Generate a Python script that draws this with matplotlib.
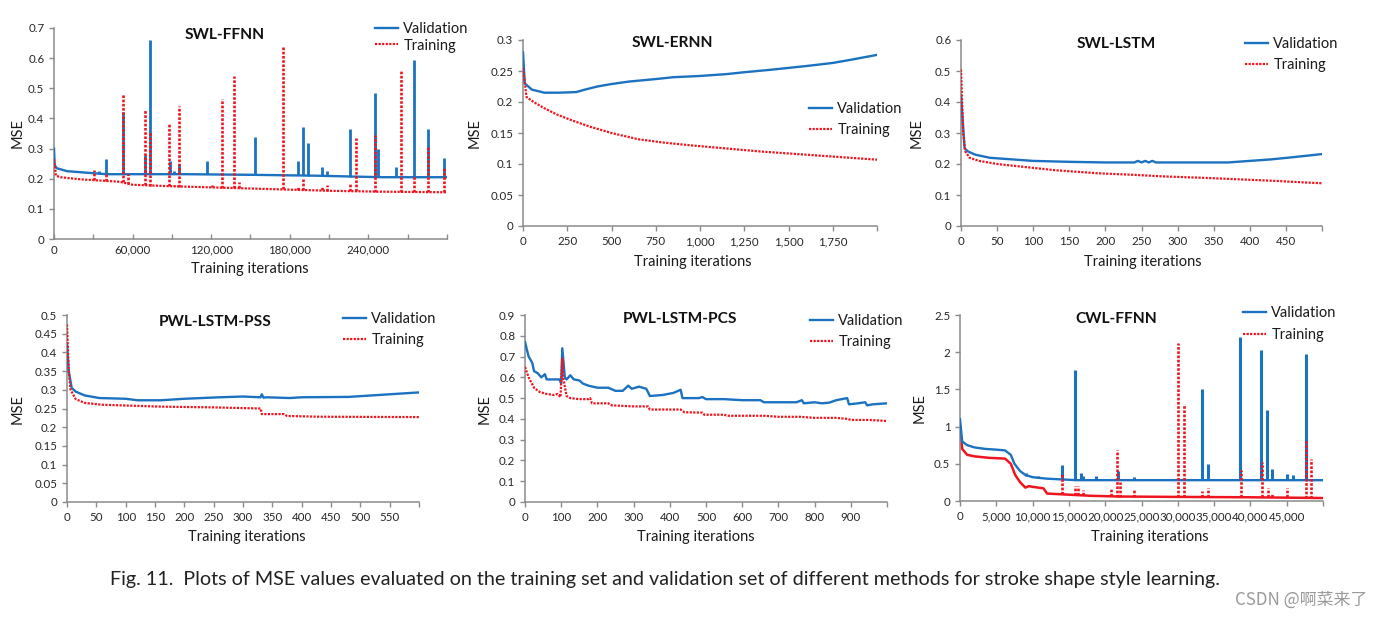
import numpy as np
import matplotlib.pyplot as plt
from matplotlib.lines import Line2D

plt.rcParams['font.family'] = ['Lato', 'DejaVu Sans']

W, H = 1382, 618
BLUE = '#1b72c0'
RED = '#f0141e'
DOT = (0, (1, 0.6))

### datos

# SWL-FFNN
ffnn_val_x = [0, 500, 2000, 10000, 25000, 40000, 100000, 150000, 200000, 250000, 300000]
ffnn_val_y = [0.30, 0.245, 0.235, 0.225, 0.22, 0.215, 0.215, 0.213, 0.21, 0.205, 0.205]
ffnn_val_spk_x = [34400, 39500, 52800, 69300, 73400, 88500, 91500, 95300, 116500, 153700, 186600,
                  189900, 193700, 204400, 208300, 226100, 244700, 247300, 261000, 274500, 285500, 297500]
ffnn_val_spk_lo = [0.216, 0.215, 0.215, 0.215, 0.215, 0.215, 0.215, 0.215, 0.215, 0.213, 0.211,
                   0.211, 0.21, 0.209, 0.208, 0.207, 0.205, 0.205, 0.205, 0.205, 0.205, 0.205]
ffnn_val_spk_hi = [0.225, 0.265, 0.42, 0.28, 0.66, 0.26, 0.225, 0.25, 0.26, 0.34, 0.26,
                   0.37, 0.32, 0.24, 0.225, 0.365, 0.485, 0.30, 0.24, 0.595, 0.365, 0.27]
ffnn_trn_x = [0, 1500, 5000, 20000, 50000, 60000, 90000, 130000, 170000, 210000, 250000, 300000]
ffnn_trn_y = [0.265, 0.21, 0.205, 0.198, 0.19, 0.18, 0.175, 0.17, 0.165, 0.16, 0.157, 0.155]
ffnn_trn_spk_x = [30600, 39500, 52800, 56600, 69300, 73400, 87700, 91500, 95300, 120600, 128000, 137600,
                  141200, 174600, 186600, 189900, 204400, 208300, 226100, 230200, 244700, 264800,
                  274500, 285500, 297500]
ffnn_trn_spk_lo = [0.196, 0.193, 0.188, 0.184, 0.178, 0.177, 0.175, 0.175, 0.174, 0.171, 0.17, 0.169,
                   0.169, 0.165, 0.163, 0.163, 0.161, 0.16, 0.159, 0.158, 0.157, 0.156,
                   0.156, 0.156, 0.155]
ffnn_trn_spk_hi = [0.23, 0.22, 0.48, 0.215, 0.43, 0.355, 0.385, 0.18, 0.44, 0.18, 0.465, 0.54,
                   0.19, 0.64, 0.175, 0.2, 0.175, 0.18, 0.185, 0.335, 0.345, 0.56,
                   0.21, 0.31, 0.24]

# SWL-ERNN
ernn_val_x = [0, 10, 50, 120, 200, 300, 350, 420, 500, 600, 750, 850, 1000, 1150, 1250, 1400, 1500, 1600, 1750, 1850, 2000]
ernn_val_y = [0.28, 0.23, 0.22, 0.215, 0.215, 0.216, 0.22, 0.225, 0.229, 0.233, 0.237, 0.24, 0.242, 0.245, 0.248,
              0.252, 0.255, 0.258, 0.263, 0.268, 0.276]
ernn_trn_x = [0, 20, 60, 120, 190, 280, 380, 500, 650, 780, 950, 1150, 1350, 1600, 1850, 2000]
ernn_trn_y = [0.255, 0.208, 0.2, 0.19, 0.18, 0.17, 0.16, 0.15, 0.14, 0.135, 0.13, 0.125, 0.12, 0.115, 0.11, 0.107]

# SWL-LSTM
lstm_val_x = [0, 5, 10, 20, 40, 70, 100, 150, 200, 240, 245, 250, 255, 260, 265, 270, 370, 400, 430, 460, 500]
lstm_val_y = [0.42, 0.25, 0.24, 0.23, 0.22, 0.215, 0.21, 0.207, 0.205, 0.205, 0.21, 0.205, 0.21, 0.205, 0.21, 0.205,
              0.205, 0.21, 0.215, 0.222, 0.232]
lstm_trn_x = [0, 3, 6, 12, 25, 50, 90, 130, 190, 240, 280, 340, 390, 440, 480, 500]
lstm_trn_y = [0.505, 0.3, 0.24, 0.22, 0.21, 0.2, 0.19, 0.18, 0.17, 0.165, 0.16, 0.155, 0.15, 0.145, 0.14, 0.138]

# PWL-LSTM-PSS
pss_val_x = [0, 3, 8, 15, 30, 55, 100, 120, 160, 200, 260, 300, 330, 332, 335, 340, 380, 400, 480, 520, 560, 600]
pss_val_y = [0.42, 0.35, 0.305, 0.295, 0.285, 0.278, 0.276, 0.272, 0.272, 0.276, 0.28, 0.282, 0.28, 0.288,
             0.279, 0.28, 0.278, 0.28, 0.281, 0.285, 0.289, 0.293]
pss_trn_x = [0, 3, 6, 15, 30, 60, 120, 160, 250, 330, 332, 370, 375, 430, 600]
pss_trn_y = [0.475, 0.35, 0.3, 0.275, 0.265, 0.26, 0.257, 0.255, 0.253, 0.25, 0.235, 0.235, 0.23, 0.228, 0.227]

# PWL-LSTM-PCS
pcs_val_x = [0, 10, 20, 25, 35, 45, 55, 60, 95, 100, 103, 110, 115, 125, 135, 150, 160, 175, 200, 230, 250, 270,
             285, 295, 315, 335, 345, 380, 410, 430, 435, 480, 490, 500, 550, 600, 650, 660, 750, 765, 770, 800,
             820, 840, 860, 890, 895, 920, 940, 945, 960, 1000]
pcs_val_y = [0.77, 0.7, 0.67, 0.63, 0.62, 0.6, 0.615, 0.59, 0.59, 0.57, 0.74, 0.6, 0.59, 0.61, 0.59, 0.585, 0.57,
             0.56, 0.55, 0.55, 0.535, 0.535, 0.56, 0.545, 0.555, 0.545, 0.51, 0.515, 0.525, 0.54, 0.5, 0.5, 0.505,
             0.495, 0.495, 0.49, 0.49, 0.48, 0.48, 0.49, 0.475, 0.48, 0.475, 0.478, 0.49, 0.5, 0.47, 0.475, 0.48,
             0.465, 0.47, 0.475]
pcs_trn_x = [0, 10, 25, 40, 60, 80, 90, 98, 103, 105, 115, 125, 150, 175, 180, 185, 230, 240, 300, 340, 345, 430,
             440, 490, 495, 550, 560, 660, 700, 760, 800, 860, 890, 900, 950, 1000]
pcs_trn_y = [0.65, 0.6, 0.55, 0.53, 0.52, 0.515, 0.52, 0.505, 0.69, 0.6, 0.51, 0.5, 0.495, 0.495, 0.5, 0.475,
             0.475, 0.465, 0.46, 0.46, 0.445, 0.445, 0.432, 0.43, 0.42, 0.42, 0.415, 0.415, 0.41, 0.41, 0.405,
             0.405, 0.4, 0.395, 0.395, 0.39]

# CWL-FFNN
cwl_val_x = [0, 300, 1000, 2000, 3500, 5000, 6200, 7000, 7500, 8300, 9000, 10000, 12000, 14000, 16000, 50000]
cwl_val_y = [1.1, 0.8, 0.75, 0.72, 0.70, 0.69, 0.68, 0.62, 0.5, 0.4, 0.35, 0.32, 0.30, 0.29, 0.28, 0.28]
cwl_val_spk_x = [9100, 10800, 14000, 15800, 16600, 17000, 18800, 21800, 24000, 33400, 34200, 38600, 41500,
                 42300, 43000, 45000, 45800, 47700]
cwl_val_spk_lo = [0.33, 0.31, 0.29, 0.28, 0.28, 0.28, 0.28, 0.28, 0.28, 0.28, 0.28, 0.28, 0.28,
                  0.28, 0.28, 0.28, 0.28, 0.28]
cwl_val_spk_hi = [0.37, 0.33, 0.48, 1.76, 0.37, 0.34, 0.33, 0.40, 0.32, 1.5, 0.5, 2.2, 2.03,
                  1.22, 0.43, 0.36, 0.35, 1.97]
cwl_trn_x = [0, 300, 1000, 2000, 4000, 6200, 7000, 7600, 8300, 9000, 9500, 10000, 11500, 12000, 14000, 18000,
             22000, 30000, 40000, 50000]
cwl_trn_y = [1.0, 0.7, 0.62, 0.6, 0.58, 0.57, 0.5, 0.35, 0.25, 0.18, 0.2, 0.19, 0.17, 0.1, 0.09, 0.07,
             0.06, 0.055, 0.05, 0.04]
cwl_trn_spk_x = [14000, 15800, 16300, 17000, 20800, 21600, 22000, 24000, 30000, 30800, 33300, 34100, 38700,
                 41600, 42400, 43000, 45000, 47700, 48300]
cwl_trn_spk_lo = [0.09, 0.08, 0.08, 0.075, 0.065, 0.06, 0.06, 0.058, 0.055, 0.055, 0.053, 0.053, 0.051,
                  0.05, 0.05, 0.05, 0.048, 0.045, 0.044]
cwl_trn_spk_hi = [0.38, 0.2, 0.2, 0.15, 0.18, 0.68, 0.25, 0.15, 2.12, 1.3, 0.13, 0.17, 0.42,
                  0.52, 0.17, 0.1, 0.17, 0.8, 0.57]

titles = ['SWL-FFNN', 'SWL-ERNN', 'SWL-LSTM', 'PWL-LSTM-PSS', 'PWL-LSTM-PCS', 'CWL-FFNN']
xmax = [300000, 2000, 500, 600, 1000, 50000]
xstep = [30000, 250, 50, 50, 100, 5000]
xlabstep = [60000, 250, 50, 50, 100, 5000]
ymax = [0.7, 0.3, 0.6, 0.5, 0.9, 2.5]
ystep = [0.1, 0.05, 0.1, 0.05, 0.1, 0.5]

### layout en pixeles: (izq, der, arriba, abajo)
boxes = [(54, 447, 28, 239), (523, 877, 40, 226), (961, 1322, 40, 226),
         (67, 419, 315, 502), (525, 887, 315, 502), (960, 1323, 315, 501)]
title_pos = [(225, 35), (672, 43), (1116, 44), (215, 322), (680, 319), (1116, 319)]
xlab_pos = [(250, 269), (693, 262), (1143, 262), (247, 537), (696, 537), (1150, 537)]
ylab_x = [18, 475, 917, 18, 485, 920]
leg_pos = [(375, 37.5, 0.15), (809, 119.5, 0.45), (1245, 54.5, 0.45),
           (343, 329.5, 0.45), (810, 331.5, 0.45), (1243, 324, 0.5)]


def fx(px):
    return px / W


def fy(py):
    return 1 - py / H


fig = plt.figure(figsize=(W / 100, H / 100), dpi=100)

axs = []
for i, b in enumerate(boxes):
    ax = fig.add_axes([fx(b[0]), fy(b[3]), fx(b[1] - b[0]), (b[3] - b[2]) / H])
    axs.append(ax)

series = [
    (ffnn_val_x, ffnn_val_y, ffnn_trn_x, ffnn_trn_y),
    (ernn_val_x, ernn_val_y, ernn_trn_x, ernn_trn_y),
    (lstm_val_x, lstm_val_y, lstm_trn_x, lstm_trn_y),
    (pss_val_x, pss_val_y, pss_trn_x, pss_trn_y),
    (pcs_val_x, pcs_val_y, pcs_trn_x, pcs_trn_y),
    (cwl_val_x, cwl_val_y, cwl_trn_x, cwl_trn_y),
]

for i, ax in enumerate(axs):
    vx, vy, tx, ty = series[i]
    ax.plot(vx, vy, color=BLUE, lw=1.7, zorder=3)
    if i == 5:
        ax.plot(tx, ty, color=RED, lw=1.8, zorder=2)
    else:
        ax.plot(tx, ty, color=RED, lw=1.6, ls=DOT, zorder=4)

# picos
axs[0].vlines(ffnn_val_spk_x, ffnn_val_spk_lo, ffnn_val_spk_hi, color=BLUE, lw=2, zorder=3)
axs[0].vlines(ffnn_trn_spk_x, ffnn_trn_spk_lo, ffnn_trn_spk_hi, color=RED, lw=1.9, ls=DOT, zorder=4)
axs[5].vlines(cwl_val_spk_x, cwl_val_spk_lo, cwl_val_spk_hi, color=BLUE, lw=2.2, zorder=3)
axs[5].vlines(cwl_trn_spk_x, cwl_trn_spk_lo, cwl_trn_spk_hi, color=RED, lw=1.9, ls=DOT, zorder=4)

for i, ax in enumerate(axs):
    ax.set_xlim(0, xmax[i])
    ax.set_ylim(0, ymax[i])
    xt = np.arange(0, xmax[i] + 1, xstep[i])
    labs = []
    for v in xt:
        if v == xmax[i] or v % xlabstep[i] != 0:
            labs.append('')
        else:
            labs.append(f'{int(v):,}' if xmax[i] >= 2000 else str(int(v)))
    ax.set_xticks(xt)
    ax.set_xticklabels(labs)
    yt = np.round(np.arange(0, ymax[i] + 1e-9, ystep[i]), 3)
    ax.set_yticks(yt)
    ax.set_yticklabels(['0' if v == 0 else f'{v:g}' for v in yt])
    for s in ['top', 'right']:
        ax.spines[s].set_visible(False)
    for s in ['left', 'bottom']:
        ax.spines[s].set_color('#8a8a8a')
        ax.spines[s].set_linewidth(1.1)
    ax.tick_params(axis='both', labelsize=8.3, colors='#8a8a8a', labelcolor='#262626', length=3.5, width=1)
    ax.tick_params(axis='x', pad=4)
    ax.set_xlabel('Training iterations', fontsize=10.5, color='#1a1a1a')
    ax.xaxis.set_label_coords(fx(xlab_pos[i][0]), fy(xlab_pos[i][1]), transform=fig.transFigure)
    ax.xaxis.label.set_va('center')
    ax.set_ylabel('MSE', fontsize=10.5, color='#1a1a1a')
    ax.yaxis.set_label_coords(fx(ylab_x[i]), fy((boxes[i][2] + boxes[i][3]) / 2), transform=fig.transFigure)
    ax.yaxis.label.set_va('center')
    fig.text(fx(title_pos[i][0]), fy(title_pos[i][1]), titles[i], fontsize=11.2, fontweight='bold',
             ha='center', va='center', color='#111111')

    h = [Line2D([], [], color=BLUE, lw=1.7),
         Line2D([], [], color=RED, lw=1.6, ls=DOT)]
    lp = leg_pos[i]
    ax.legend(h, ['Validation', 'Training'], loc='center left', bbox_to_anchor=(fx(lp[0]), fy(lp[1])),
              bbox_transform=fig.transFigure, frameon=False, fontsize=10.5, borderpad=0, borderaxespad=0,
              handlelength=1.55, handletextpad=0.4, labelspacing=lp[2], labelcolor='#1a1a1a')

axs[0].tick_params(axis='x', direction='in')

fig.text(fx(110), fy(580),
         'Fig. 11.  Plots of MSE values evaluated on the training set and validation set of different methods for stroke shape style learning.',
         fontsize=14.2, ha='left', va='center', color='#222222')
fig.text(fx(1367), fy(600), 'CSDN @啊菜来了', fontsize=12.2, ha='right', va='center', color='#9a9a9a',
         family=['Noto Sans CJK SC', 'DejaVu Sans'])

fig.savefig('out.png', dpi=100)
